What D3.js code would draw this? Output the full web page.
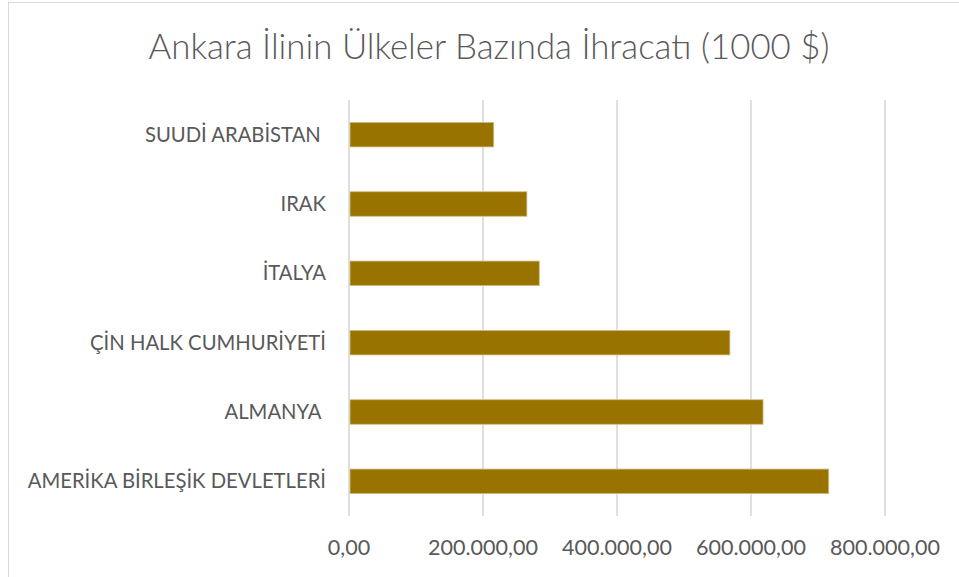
<!DOCTYPE html>
<html>
<head>
<meta charset="utf-8">
<script src="https://cdn.jsdelivr.net/npm/d3@7"></script>
<style>
  body { margin: 0; background: #fff; }
  text { font-family: Lato, "Open Sans", sans-serif; fill: #595959; white-space: pre; }
</style>
</head>
<body>
<script>
"use strict";
// categories, top to bottom as drawn
const countries = ["SUUDİ ARABİSTAN ", "IRAK", "İTALYA", "ÇİN HALK CUMHURİYETİ", "ALMANYA ", "AMERİKA BİRLEŞİK DEVLETLERİ"];
const exportValues = [216000, 265500, 284000, 568500, 618000, 716000];
const tickValues = [0, 200000, 400000, 600000, 800000];
const title = "Ankara İlinin Ülkeler Bazında İhracatı (1000 $)";

const width = 959;
const height = 577;
const fontFamily = "Lato";

// pick a font size so a string spans a given width
const ctx = document.createElement("canvas").getContext("2d");
function fitSize(str, target, weight) {
    ctx.font = `${weight || 400} 100px ${fontFamily}`;
    return 100 * target / ctx.measureText(str).width;
}

const trLocale = d3.formatLocale({ decimal: ",", thousands: ".", grouping: [3], currency: ["", ""] });
const fmt = trLocale.format(",.2f");

const svg = d3.select("body")
    .append("svg")
    .attr("width", width)
    .attr("height", height);

// chart border
svg.append("rect")
    .attr("x", 8.5).attr("y", 2.5)
    .attr("width", 1000).attr("height", 1000)
    .attr("fill", "none")
    .attr("stroke", "#d9d9d9");

const xScale = d3.scaleLinear()
    .domain([0, 800000])
    .range([349, 885]);

const yScale = d3.scaleBand()
    .domain(countries)
    .range([100, 516])
    .paddingInner(0.646)
    .paddingOuter(0.323);

// gridlines
svg.append("g")
    .selectAll("line")
    .data(tickValues)
    .enter().append("line")
    .attr("x1", d => xScale(d)).attr("x2", d => xScale(d))
    .attr("y1", 100).attr("y2", 516)
    .attr("stroke", "#d9d9d9")
    .attr("stroke-width", 1.6);

// tick labels
const tickSize = fitSize(fmt(800000), 110);
svg.append("g")
    .selectAll("text")
    .data(tickValues)
    .enter().append("text")
    .attr("x", d => xScale(d))
    .attr("y", 555)
    .attr("text-anchor", "middle")
    .style("font-size", tickSize + "px")
    .text(d => fmt(d));

// bars
svg.append("g")
    .selectAll("rect")
    .data(countries)
    .enter().append("rect")
    .attr("x", xScale(0) + 1)
    .attr("y", d => yScale(d))
    .attr("width", (d, i) => xScale(exportValues[i]) - xScale(0) - 1)
    .attr("height", yScale.bandwidth())
    .attr("fill", "#997300")
    .attr("stroke", "#d2bd84")
    .attr("stroke-width", 0.8);

// category labels
const labelSize = fitSize("AMERİKA BİRLEŞİK DEVLETLERİ", 299);
svg.append("g")
    .selectAll("text")
    .data(countries)
    .enter().append("text")
    .attr("x", 326)
    .attr("y", d => yScale(d) + yScale.bandwidth() / 2)
    .attr("dy", "0.35em")
    .attr("text-anchor", "end")
    .style("font-size", labelSize + "px")
    .text(d => d);

// title
svg.append("text")
    .attr("x", 489)
    .attr("y", 59)
    .attr("text-anchor", "middle")
    .style("font-weight", 300)
    .style("font-size", fitSize(title, 682, 300) + "px")
    .text(title);
</script>
</body>
</html>
